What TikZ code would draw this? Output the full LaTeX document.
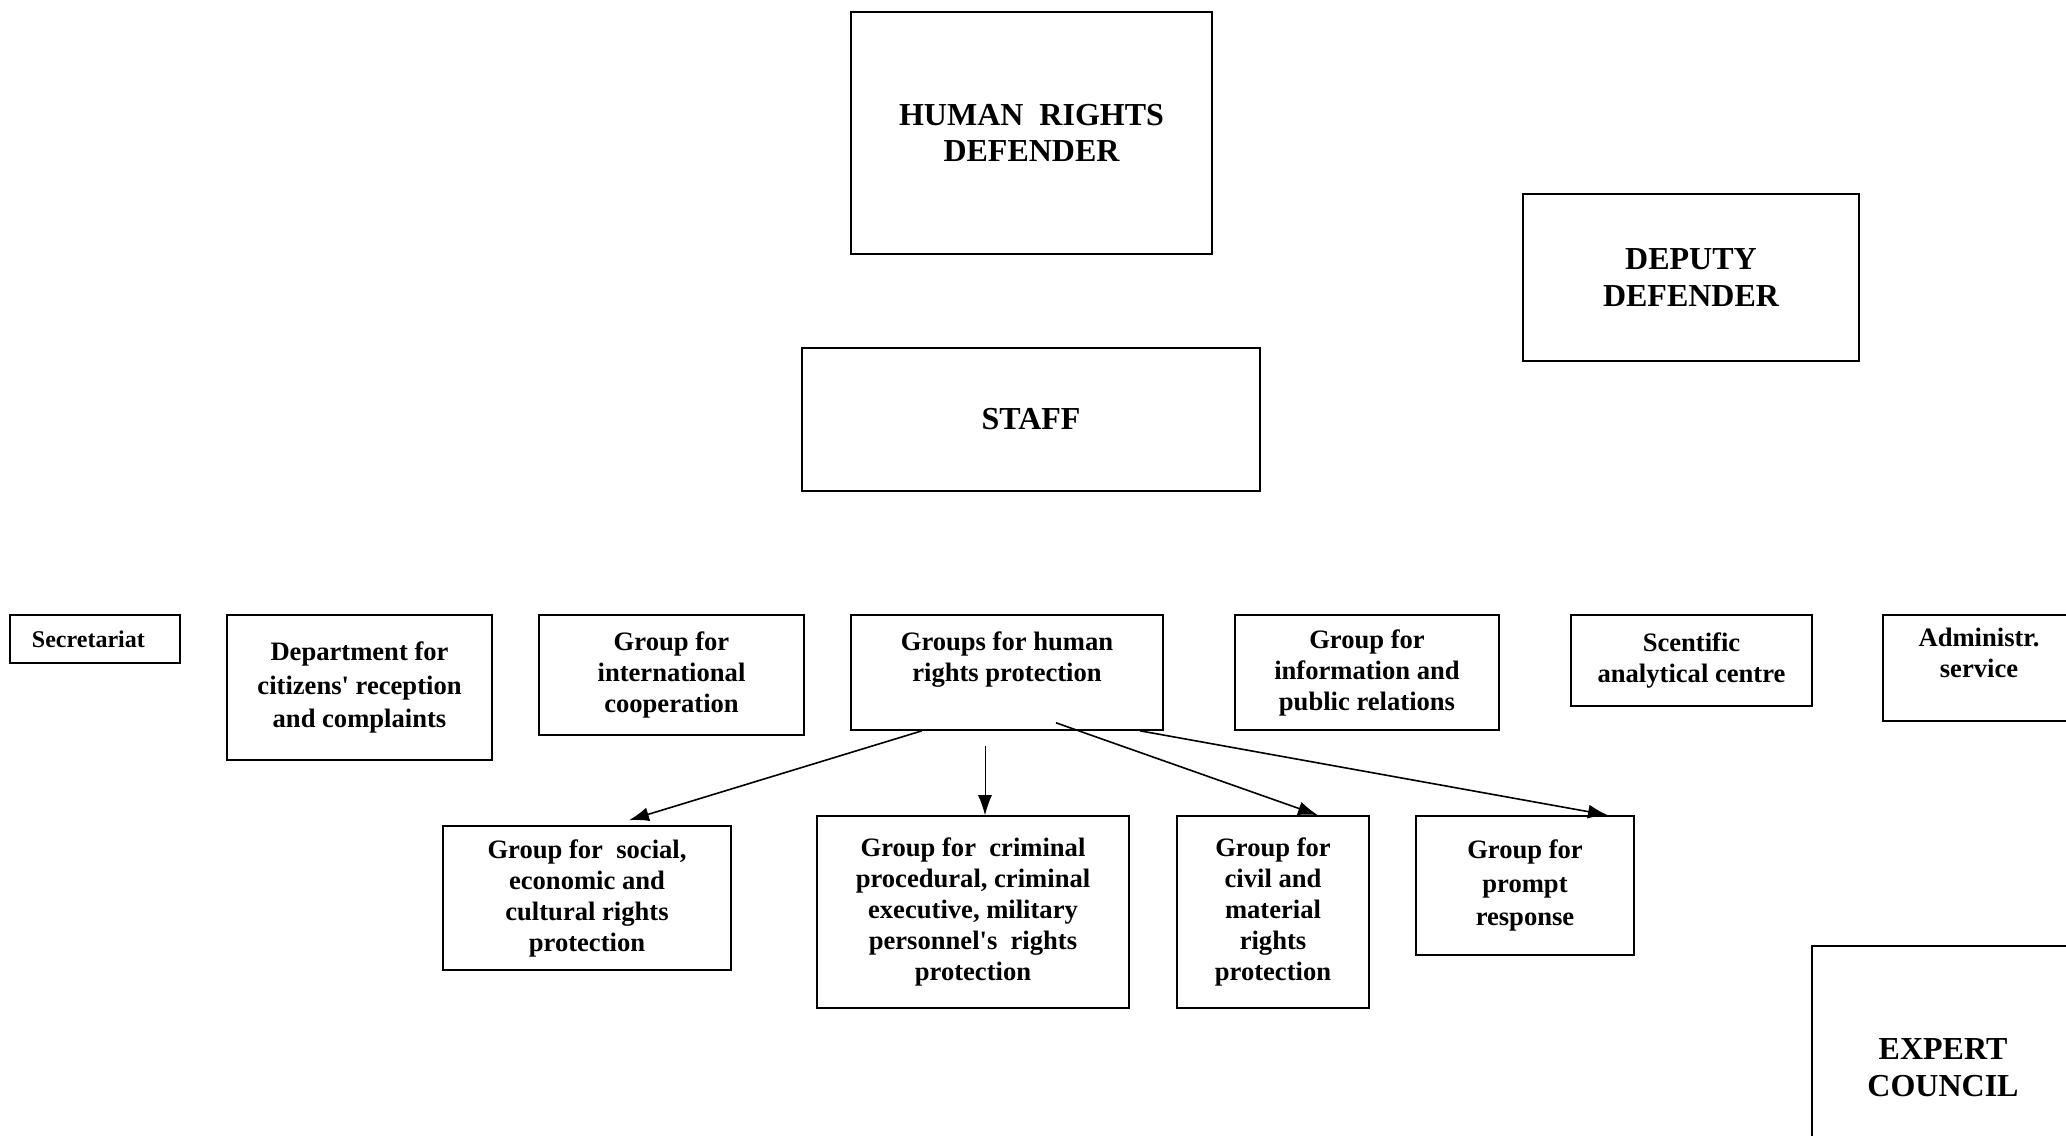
\documentclass[tikz,border=0pt]{standalone}
\usepackage{fontspec}
\setmainfont{Liberation Serif}
\usetikzlibrary{arrows.meta}
\begin{document}
\begin{tikzpicture}[
    x=0.5pt, y=-0.5pt,
    every node/.style={
        rectangle,
        draw,
        line width=0.8pt,
        align=center,
        inner sep=0pt,
        font=\fontsize{13.3}{15.5}\selectfont\bfseries
    },
    big/.style={font=\fontsize{16}{18.4}\selectfont\bfseries},
    small/.style={font=\fontsize{12}{14}\selectfont\bfseries},
    loose/.style={font=\fontsize{13.3}{16.8}\selectfont\bfseries}
]

\useasboundingbox (0,0) rectangle (2066,1135);

% top
\node[big, minimum width=180.5pt, minimum height=121pt] (hrd) at (1031.5,133) {HUMAN~ RIGHTS\\DEFENDER};
\node[big, minimum width=168pt, minimum height=83.5pt] (deputy) at (1691,277.5) {DEPUTY\\DEFENDER};
\node[big, minimum width=229pt, minimum height=71.5pt] (staff) at (1031,419.5) {STAFF};

% departments
\node[small, minimum height=24pt, text width=63pt, inner xsep=11pt, align=left] (secr) at (95,639) {Secretariat};
\node[loose, minimum width=132.5pt, minimum height=72.5pt] (dept) at (359.5,687.5) {Department for\\citizens\textquotesingle{} reception\\and complaints};
\node[minimum width=132.5pt, minimum height=60pt] (intl) at (671.5,675) {Group for\\international\\cooperation};
\node[minimum width=156pt, minimum height=57.5pt] (hrgroups) at (1007,672.5) {Groups for human\\rights protection\\\mbox{}};
\node[minimum width=132pt, minimum height=57.5pt] (info) at (1367,672.5) {Group for\\information and\\public relations};
\node[minimum width=120.5pt, minimum height=45.5pt] (sci) at (1691.5,660.5) {Scentific\\analytical centre};
\node[minimum width=96pt, minimum height=53pt] (admin) at (1979,668) {Administr.\\service\\\mbox{}};

% groups
\node[minimum width=144pt, minimum height=72pt] (social) at (587,898) {Group for~ social,\\economic and\\cultural rights\\protection};
\node[minimum width=156pt, minimum height=96pt] (crim) at (973,912) {Group for~ criminal\\procedural, criminal\\executive, military\\personnel\textquotesingle s~ rights\\protection};
\node[minimum width=96pt, minimum height=96pt] (civil) at (1273,912) {Group for\\civil and\\material\\rights\\protection};
\node[loose, minimum width=109pt, minimum height=69.5pt] (prompt) at (1525,885.5) {Group for\\prompt\\response};

\node[big, minimum width=131pt, minimum height=122pt] (expert) at (1943,1068) {EXPERT\\COUNCIL};

% arrows
\draw[->, line width=0.8pt, >={Latex[length=10pt,width=7pt]}] ([xshift=-42.5pt]hrgroups.south) -- ([xshift=21pt, yshift=2.5pt]social.north);
\draw[->, line width=0.5pt, >={Latex[length=10pt,width=7pt]}] ([xshift=-11pt, yshift=-7.5pt]hrgroups.south) -- ([xshift=6pt]crim.north);
\draw[->, line width=0.8pt, >={Latex[length=10pt,width=7pt]}] ([xshift=24.5pt, yshift=4pt]hrgroups.south) -- ([xshift=22.5pt]civil.north);
\draw[->, line width=0.8pt, >={Latex[length=10pt,width=7pt]}] ([xshift=66.5pt]hrgroups.south) -- ([xshift=41.5pt]prompt.north);

\end{tikzpicture}
\end{document}
